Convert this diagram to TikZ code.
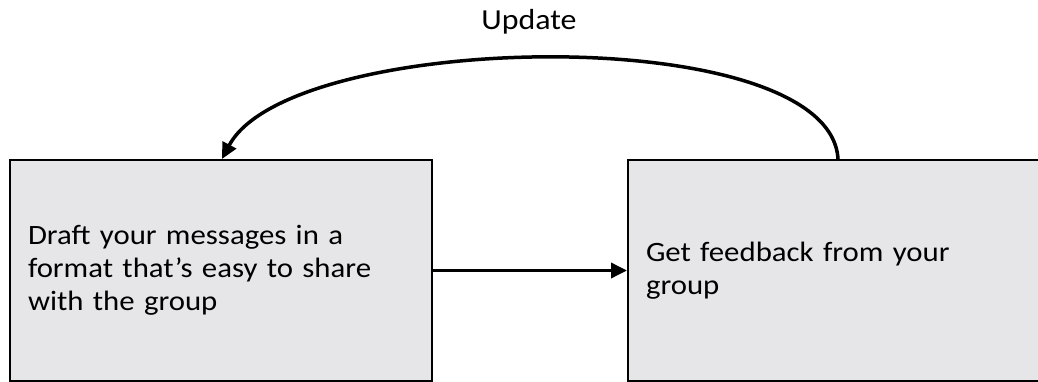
\documentclass[tikz,border=0pt]{standalone}
\usepackage{fontspec}
\setmainfont{Carlito}
\newfontfamily\widefont[FakeStretch=1.1]{Carlito}
\usetikzlibrary{arrows.meta}
\definecolor{boxgray}{RGB}{230,230,232}
\begin{document}
\begin{tikzpicture}[x=1pt, y=-1pt,
    stepbox/.style={draw, fill=boxgray, line width=2pt, inner xsep=18pt, align=left, font=\widefont\fontsize{28}{33}\selectfont},
    flow/.style={line width=3.5pt, -{Triangle[length=16pt,width=15pt]}}]
    \useasboundingbox (0,0) rectangle (1038,382);
    \node[stepbox, minimum width=422pt, minimum height=221pt, text width=386pt] (draft) at (221,270.5) {Draft your messages in a\\format that’s easy to share\\with the group};
    \node[stepbox, minimum width=412pt, minimum height=221pt, text width=376pt] (feedback) at (834,270.5) {Get feedback from your\\group};
    \node[font=\widefont\fontsize{29}{34}\selectfont, anchor=base] (update) at (529,30) {Update};
    \path (draft) edge[flow] (feedback);
    \draw[flow] ([xshift=4pt]feedback.north) .. controls (830,20) and (290,30) .. ([xshift=1pt]draft.north);
\end{tikzpicture}
\end{document}
